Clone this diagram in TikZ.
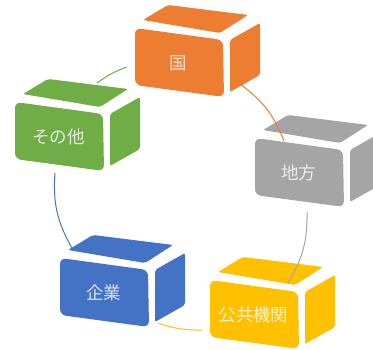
\documentclass[tikz,border=0pt]{standalone}
\usepackage{fontspec}
\newfontfamily\jp{Noto Sans CJK JP}
\definecolor{cOrange}{HTML}{ED7D31}
\definecolor{cGray}{HTML}{A5A5A5}
\definecolor{cYellow}{HTML}{FFC000}
\definecolor{cBlue}{HTML}{4472C4}
\definecolor{cGreen}{HTML}{70AD47}
\tikzset{
  lbl/.style={text=white, text opacity=0.8, inner sep=0pt, font=\jp\fontsize{17.5}{18}\selectfont},
  link/.style={line width=1pt, draw=#1},
}
\newcommand\cubebox[5]{%
  \begin{scope}[shift={(#2,#3)}]
    \fill[#4, rounded corners=2pt] (8,-8) -- (33,-23) -- (113,-13) -- (85,5) -- cycle;
    \fill[#4, rounded corners=2pt] (95,12) -- (125,-5) -- (125,47) -- (95,64) -- cycle;
    \fill[#4, rounded corners=6pt] (0,0) -- (88,12) -- (89,69) -- (0,57) -- cycle;
    \node[lbl] (#1) at (43.5,35) {#5};
  \end{scope}}
\begin{document}
\begin{tikzpicture}[x=1pt,y=-1pt]
  \useasboundingbox (0,0) rectangle (373,350);
  \cubebox{kuni}{135}{28}{cOrange}{国}
  \cubebox{chiho}{255}{138}{cGray}{地方}
  \cubebox{koukyou}{210}{280}{cYellow}{公共機関}
  \cubebox{kigyou}{60}{258}{cBlue}{企業}
  \cubebox{sonota}{15}{102}{cGreen}{その他}
  % connector end points
  \coordinate (oS) at (237,82);
  \coordinate (oE) at (284,141);
  \coordinate (gS) at (307,212);
  \coordinate (gE) at (288,283);
  \coordinate (yS) at (202,330);
  \coordinate (yE) at (158,323);
  \coordinate (bS) at (72,248);
  \coordinate (bE) at (55,173);
  \coordinate (nS) at (97,83);
  \coordinate (nE) at (127,67);
  \draw[link=cOrange] (oS) to[bend left=17] (oE);
  \draw[link=cGray] (gS) to[bend left=16] (gE);
  \draw[link=cYellow] (yS) to[bend left=10] (yE);
  \draw[link=cBlue] (bS) to[bend left=17] (bE);
  \draw[link=cGreen] (nS) to[bend left=8] (nE);
\end{tikzpicture}
\end{document}
